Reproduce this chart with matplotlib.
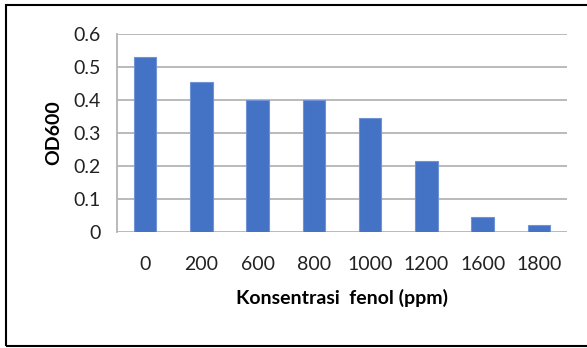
import matplotlib.pyplot as plt
import numpy as np
from matplotlib.patches import Rectangle

# fenol concentration (ppm) vs OD600
konsentrasi = ["0", "200", "600", "800", "1000", "1200", "1600", "1800"]
od600 = [0.53, 0.455, 0.40, 0.40, 0.345, 0.215, 0.045, 0.02]
yticks = [0, 0.1, 0.2, 0.3, 0.4, 0.5, 0.6]
ytick_labels = ["0", "0.1", "0.2", "0.3", "0.4", "0.5", "0.6"]

plt.rcParams["font.family"] = ["Lato", "DejaVu Sans"]

W, H = 587, 348
fig = plt.figure(figsize=(W / 100, H / 100), dpi=100)
ax = fig.add_axes([117 / W, 1 - 232 / H, 450 / W, 198 / H])

x = np.arange(len(konsentrasi))
ax.bar(x, od600, width=0.4, color="#4472C4", edgecolor="#6f93d6", linewidth=0.8, zorder=3)

ax.set_xlim(-0.5, len(konsentrasi) - 0.5)
ax.set_ylim(0, 0.6)
ax.set_yticks(yticks)
ax.set_yticklabels(ytick_labels, fontsize=14, color="#222222")
ax.set_xticks(x)
ax.set_xticklabels(konsentrasi, fontsize=14, color="#222222")
ax.tick_params(axis="both", length=0)
ax.tick_params(axis="x", pad=17)
ax.tick_params(axis="y", pad=12)

ax.grid(axis="y", color="#b4b4b4", linewidth=1.3, zorder=0)
for s in ["top", "right", "bottom"]:
    ax.spines[s].set_visible(False)
ax.spines["left"].set_color("#b4b4b4")
ax.spines["left"].set_linewidth(1.3)

ax.set_xlabel("Konsentrasi  fenol (ppm)", fontsize=14, fontweight="bold", labelpad=12)
ax.set_ylabel("OD600", fontsize=14, fontweight="bold", labelpad=8)

# outer frame (open on the right, as in the cropped original)
fig.patches.append(Rectangle((6 / W, 2 / H), 1.0, 1 - 7 / H, transform=fig.transFigure,
                             fill=False, edgecolor="black", linewidth=1.5))

fig.savefig("out.png", dpi=100)
